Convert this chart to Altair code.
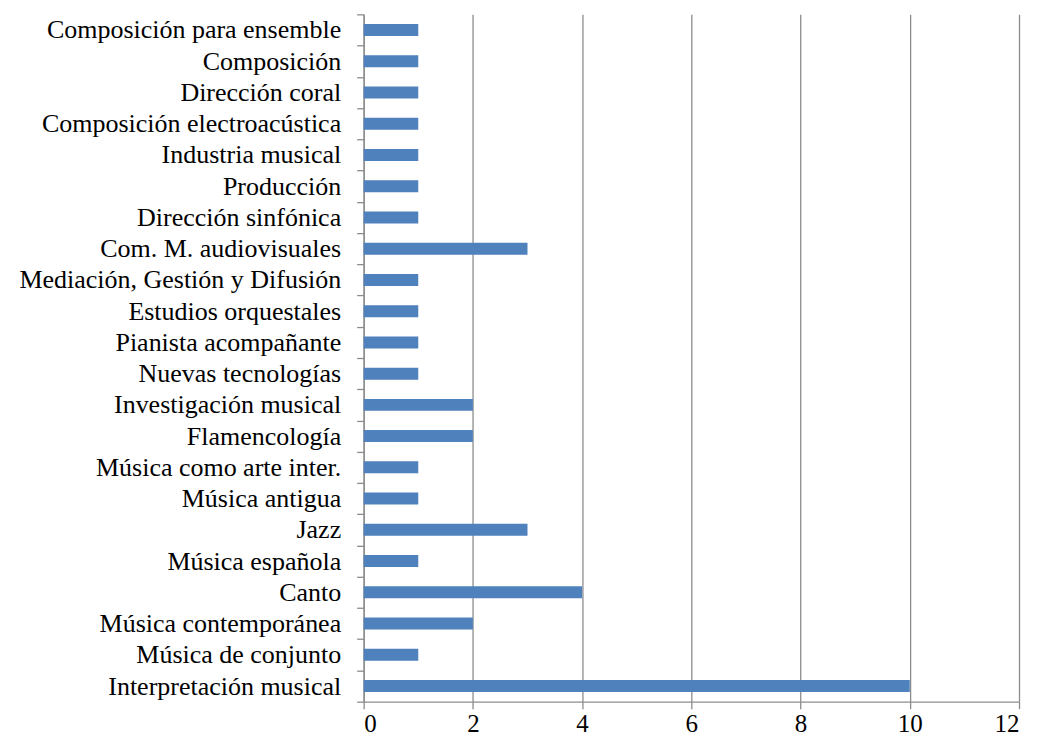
import altair as alt
import pandas as pd

categories = [
    "Composición para ensemble",
    "Composición ",
    "Dirección coral ",
    "Composición electroacústica",
    "Industria musical",
    "Producción",
    "Dirección sinfónica",
    "Com. M. audiovisuales",
    "Mediación, Gestión y Difusión",
    "Estudios orquestales",
    "Pianista acompañante",
    "Nuevas tecnologías",
    "Investigación musical",
    "Flamencología",
    "Música como arte inter.",
    "Música antigua",
    "Jazz",
    "Música española",
    "Canto",
    "Música contemporánea",
    "Música de conjunto",
    "Interpretación musical",
]
values = [1, 1, 1, 1, 1, 1, 1, 3, 1, 1, 1, 1, 2, 2, 1, 1, 3, 1, 4, 2, 1, 10]
x_ticks = [0, 2, 4, 6, 8, 10, 12]

df = pd.DataFrame({"cat": categories, "val": values})

font = "Liberation Serif"

chart = alt.Chart(df).mark_bar(color="#4F81BD", height=12).encode(
    x=alt.X("val:Q", scale=alt.Scale(domain=[0, 12], nice=False),
            axis=alt.Axis(values=x_ticks, title=None, grid=True, gridColor="#8C8C8C",
                          gridWidth=1.3, domainColor="#8C8C8C", domainWidth=1.3,
                          tickColor="#8C8C8C", tickWidth=1.3, tickSize=7,
                          labelFont=font, labelFontSize=25, labelColor="black",
                          labelPadding=3)),
    y=alt.Y("cat:N", sort=categories, scale=alt.Scale(paddingInner=0, paddingOuter=0),
            axis=alt.Axis(title=None, tickBand="extent", domainColor="#8C8C8C",
                          domainWidth=1.3, tickColor="#8C8C8C", tickWidth=1.3, tickSize=7,
                          labelFont=font, labelFontSize=26, labelColor="black",
                          labelPadding=16, labelLimit=400, grid=False)),
).properties(
    width=656, height=688,
    autosize=alt.AutoSizeParams(type="none"),
    padding={"left": 356, "top": 6, "right": 10, "bottom": 34},
).configure_view(stroke=None)

chart.save("out.html", embed_options={"renderer": "svg", "actions": False})
